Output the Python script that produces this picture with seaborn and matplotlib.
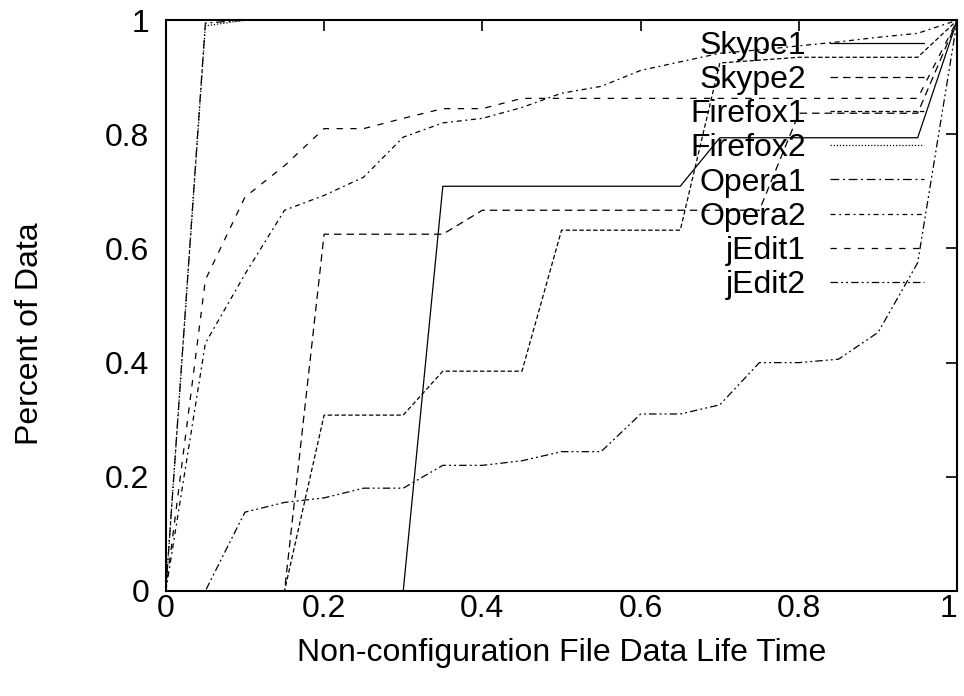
import numpy as np
import pandas as pd
import matplotlib
matplotlib.use("Agg")
import matplotlib.pyplot as plt
import seaborn as sns

# lifetime grid (fraction of run), same for every series
life_time = [0.0, 0.05, 0.1, 0.15, 0.2, 0.25, 0.3, 0.35, 0.4, 0.45, 0.5,
             0.55, 0.6, 0.65, 0.7, 0.75, 0.8, 0.85, 0.9, 0.95, 1.0]

skype1 = [0, 0, 0, 0, 0, 0, 0, 0.709, 0.709, 0.709, 0.709,
          0.709, 0.709, 0.709, 0.794, 0.794, 0.794, 0.794, 0.794, 0.794, 1.0]
skype2 = [0, 0, 0, 0, 0.625, 0.625, 0.625, 0.625, 0.667, 0.667, 0.667,
          0.667, 0.667, 0.667, 0.667, 0.667, 0.837, 0.837, 0.837, 0.837, 1.0]
firefox1 = [0, 0, 0, 0, 0.308, 0.308, 0.308, 0.385, 0.385, 0.385, 0.632,
            0.632, 0.632, 0.632, 0.925, 0.93, 0.935, 0.935, 0.935, 0.935, 1.0]
firefox2 = [0, 0.99, 1.0, 1.0, 1.0, 1.0, 1.0, 1.0, 1.0, 1.0, 1.0,
            1.0, 1.0, 1.0, 1.0, 1.0, 1.0, 1.0, 1.0, 1.0, 1.0]
opera1 = [0, 0.995, 1.0, 1.0, 1.0, 1.0, 1.0, 1.0, 1.0, 1.0, 1.0,
          1.0, 1.0, 1.0, 1.0, 1.0, 1.0, 1.0, 1.0, 1.0, 1.0]
opera2 = [0, 0.434, 0.555, 0.667, 0.693, 0.725, 0.795, 0.82, 0.828, 0.847, 0.872,
          0.884, 0.912, 0.927, 0.942, 0.948, 0.955, 0.962, 0.97, 0.977, 1.0]
jedit1 = [0, 0.545, 0.69, 0.745, 0.81, 0.81, 0.828, 0.845, 0.845, 0.863, 0.863,
          0.863, 0.863, 0.863, 0.863, 0.863, 0.863, 0.863, 0.863, 0.863, 1.0]
jedit2 = [0, 0, 0.138, 0.155, 0.163, 0.18, 0.18, 0.22, 0.22, 0.228, 0.244,
          0.244, 0.31, 0.31, 0.326, 0.40, 0.40, 0.406, 0.453, 0.575, 1.0]

series_names = ["Skype1", "Skype2", "Firefox1", "Firefox2",
                "Opera1", "Opera2", "jEdit1", "jEdit2"]
series_values = [skype1, skype2, firefox1, firefox2,
                 opera1, opera2, jedit1, jedit2]

ticks = [0, 0.2, 0.4, 0.6, 0.8, 1]
tick_labels = ["0", "0.2", "0.4", "0.6", "0.8", "1"]

# gnuplot-ish line types
dash_map = {
    "Skype1": "",
    "Skype2": (6, 4),
    "Firefox1": (3.5, 2),
    "Firefox2": (1, 1.5),
    "Opera1": (7, 3, 1.5, 3),
    "Opera2": (4, 3, 1.5, 3),
    "jEdit1": (5, 6),
    "jEdit2": (6, 2.5, 1.5, 2.5, 1.5, 2.5),
}

rows = []
for name, vals in zip(series_names, series_values):
    for x, y in zip(life_time, vals):
        rows.append({"life": x, "pct": y, "series": name})
df = pd.DataFrame(rows)

sns.set_style("white")
plt.rcParams["font.family"] = ["Liberation Sans", "DejaVu Sans"]
plt.rcParams["text.color"] = "black"
plt.rcParams["axes.labelcolor"] = "black"
plt.rcParams["xtick.color"] = "black"
plt.rcParams["ytick.color"] = "black"
fs = 23

fig = plt.figure(figsize=(9.64, 6.96), dpi=100)
ax = fig.add_axes([0.172, 0.151, 0.821, 0.820])

sns.lineplot(data=df, x="life", y="pct", hue="series", style="series",
             hue_order=series_names, style_order=series_names,
             palette={n: "black" for n in series_names},
             dashes=dash_map, linewidth=0.9, legend=False, ax=ax,
             estimator=None, sort=False)

ax.set_xlim(0, 1)
ax.set_ylim(0, 1)
ax.set_xticks(ticks)
ax.set_xticklabels(tick_labels)
ax.set_yticks(ticks)
ax.set_yticklabels(tick_labels)
ax.tick_params(direction="in", top=True, right=True, length=8, width=1.2,
               labelsize=fs, colors="black")
ax.tick_params(axis="x", pad=2)
ax.tick_params(axis="y", pad=12)
# last x label sits on the figure edge, nudge it inward a little
ax.get_xticklabels()[-1].set_horizontalalignment("right")
ax.get_xticklabels()[-1].set_x(1.0)
for sp in ax.spines.values():
    sp.set_linewidth(1.5)
    sp.set_color("black")

ax.set_xlabel("Non-configuration File Data Life Time", fontsize=fs)
ax.set_ylabel("Percent of Data", fontsize=fs)
ax.xaxis.set_label_coords(0.5, -0.082)
ax.yaxis.set_label_coords(-0.153, 0.45)

handles = ax.get_lines()[:len(series_names)]
ax.legend(handles, series_names, loc="upper right", bbox_to_anchor=(0.958, 0.981),
          frameon=False, markerfirst=False, handlelength=2.95, handletextpad=0.75,
          labelspacing=0.13, borderpad=0, borderaxespad=0, fontsize=fs)

fig.savefig("out.png", dpi=100)
